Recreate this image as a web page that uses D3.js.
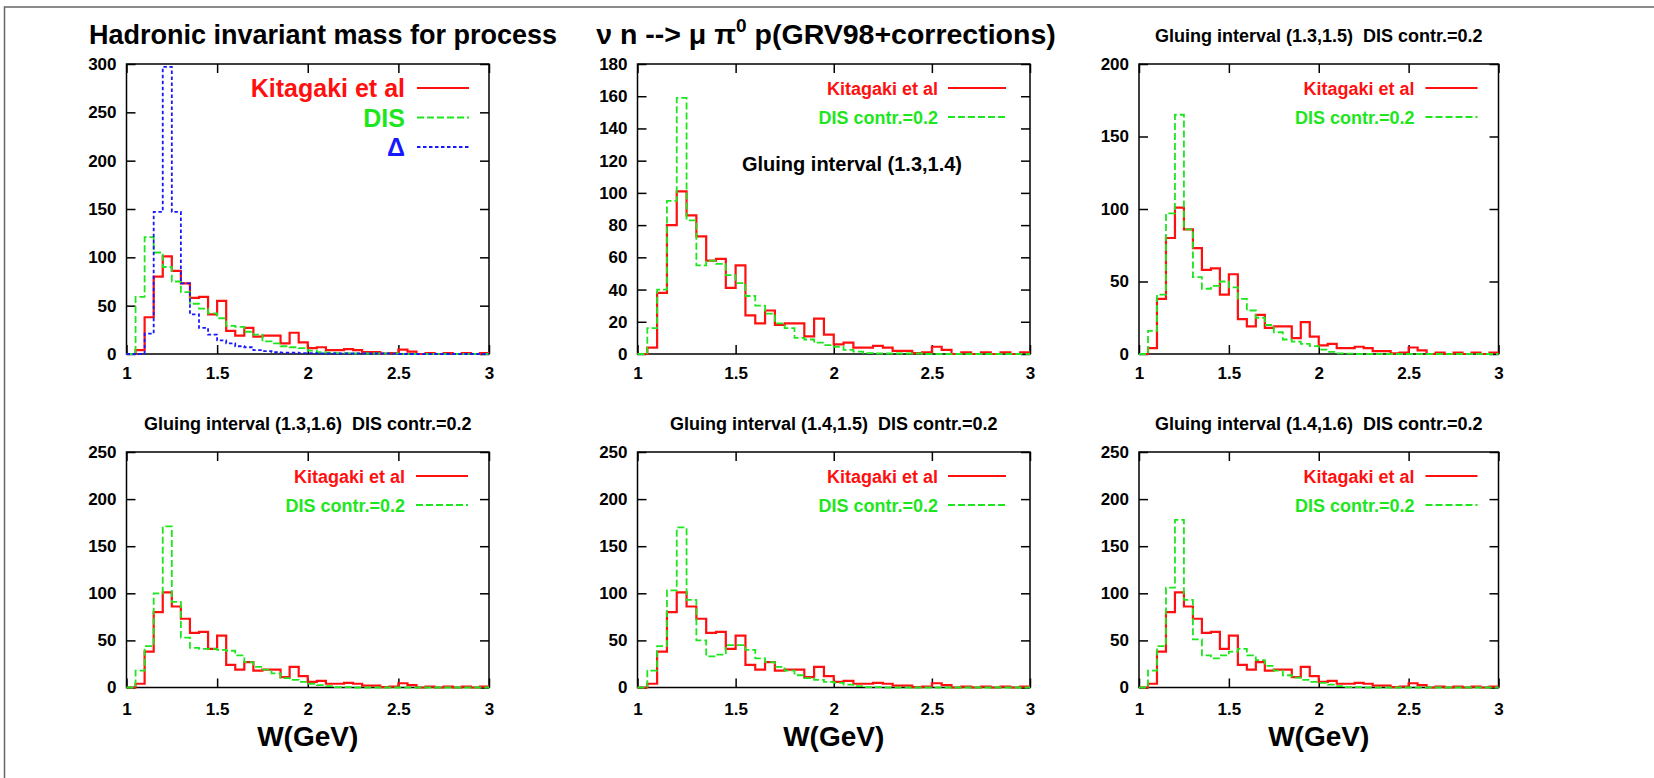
<!DOCTYPE html>
<html>
<head>
<meta charset="utf-8">
<script src="https://cdn.jsdelivr.net/npm/d3@7"></script>
<style>
  body { margin: 0; background: #fff; }
  svg text { font-family: "Liberation Sans", Arial, Helvetica, sans-serif; font-weight: bold; white-space: pre; }
</style>
</head>
<body>
<div id="chart"></div>
<script>
// W bin edges (GeV), 40 bins of 0.05
const binEdges = [1.00, 1.05, 1.10, 1.15, 1.20, 1.25, 1.30, 1.35, 1.40, 1.45,
  1.50, 1.55, 1.60, 1.65, 1.70, 1.75, 1.80, 1.85, 1.90, 1.95,
  2.00, 2.05, 2.10, 2.15, 2.20, 2.25, 2.30, 2.35, 2.40, 2.45,
  2.50, 2.55, 2.60, 2.65, 2.70, 2.75, 2.80, 2.85, 2.90, 2.95, 3.00];

// Kitagaki et al (same in every panel)
const kitagaki = [0, 4, 38, 80, 101, 86, 73, 58, 59, 41, 55, 24, 19, 27, 18, 19, 19, 11, 22, 12,
  6, 7, 4, 4, 5, 4, 2, 2, 0.5, 1, 4.5, 2.5, 0, 1, 0, 1, 0, 1, 0, 1];
// panel 1: DIS and Delta alone
const disOnly = [0, 59, 121, 105, 90, 75, 64, 52, 47, 42, 37, 29, 28, 23, 20, 13, 11, 8, 7, 6,
  3.5, 2, 1.5, 1, 1, 0.5, 0.5, 0.5, 0.5, 0.5, 0, 0, 0, 0, 0, 0, 0, 0, 0, 0];
const deltaOnly = [0, 0, 21, 147, 297, 147, 73, 41, 27, 20, 14, 11, 8, 7, 4, 3, 2, 1.5, 1.5, 1,
  1, 0.5, 0.5, 0.5, 0.5, 0.5, 0.5, 0.5, 0.5, 0.3, 0, 0, 0, 0, 0, 0, 0, 0, 0, 0];
// DIS contr.=0.2 with different gluing intervals
const glue1314 = [0, 16, 40, 95, 159, 83, 55, 58, 56, 49, 44, 36, 30, 25, 19, 16, 10, 9, 7, 5.5,
  4.5, 2.5, 1.5, 0.5, 0.3, 0.3, 0.3, 0.3, 0.3, 0, 0, 0, 0, 0, 0, 0, 0, 0, 0, 0];
const glue1315 = [0, 16, 41, 97, 165, 86, 53, 45, 47, 50, 46, 38, 30, 25, 20, 15, 10, 8.5, 7, 5.5,
  3, 1.5, 0.5, 0.3, 0, 0, 0, 0, 0, 0, 0, 0, 0, 0, 0, 0, 0, 0, 0, 0];
const glue1316 = [0, 18, 44, 100, 171, 91, 53, 42, 41, 41, 40, 39, 34, 27, 22, 19, 15, 10, 8, 6,
  4, 2.5, 1.5, 0.5, 0.3, 0, 0, 0, 0, 0, 0, 0, 0, 0, 0, 0, 0, 0, 0, 0];
const glue1415 = [0, 18, 44, 103, 170, 93, 50, 33, 35, 45, 45, 40, 31, 27, 22, 18, 13, 10, 8, 6,
  5, 3, 1.5, 0.5, 0.3, 0, 0, 0, 0, 0, 0, 0, 0, 0, 0, 0, 0, 0, 0, 0];
const glue1416 = [0, 18, 44, 106, 178, 93, 51, 34, 31, 34, 38, 41, 34, 29, 23, 18, 13, 10.5, 8, 6,
  5, 3, 1.4, 0.5, 0.3, 0, 0, 0, 0, 0, 0, 0, 0, 0, 0, 0, 0, 0, 0, 0];

// tick labels
const xTicks = [1, 1.5, 2, 2.5, 3];
const yTicks300 = [0, 50, 100, 150, 200, 250, 300];
const yTicks180 = [0, 20, 40, 60, 80, 100, 120, 140, 160, 180];
const yTicks200 = [0, 50, 100, 150, 200];
const yTicks250 = [0, 50, 100, 150, 200, 250];

const width = 1654, height = 778;
const red = "#ff1010", green = "#1ee61e", blue = "#1818ff";

const svg = d3.select("#chart")
  .append("svg")
    .attr("width", width)
    .attr("height", height);

svg.append("rect").attr("width", width).attr("height", height).attr("fill", "#fff");

// outer frame (only top and left edges visible)
svg.append("path")
  .attr("d", `M4.5,${height} V7 H${width}`)
  .attr("fill", "none")
  .attr("stroke", "#666")
  .attr("stroke-width", 1.5);

const kitEntry = {name: "Kitagaki et al", values: kitagaki, color: red, dash: null};
const disEntry = vals => ({name: "DIS contr.=0.2", values: vals, color: green, dash: "7,3"});

const panels = [
  {left: 126.5, right: 489, top: 64, bottom: 354, yMax: 300, yTicks: yTicks300, big: true,
   series: [kitEntry,
            {name: "DIS", values: disOnly, color: green, dash: "7,3"},
            {name: "\u0394", values: deltaOnly, color: blue, dash: "3.5,2.5"}]},
  {left: 637.5, right: 1030, top: 64, bottom: 354, yMax: 180, yTicks: yTicks180,
   series: [kitEntry, disEntry(glue1314)], note: "Gluing interval (1.3,1.4)"},
  {left: 1139, right: 1498.5, top: 64, bottom: 354, yMax: 200, yTicks: yTicks200,
   series: [kitEntry, disEntry(glue1315)], title: "Gluing interval (1.3,1.5)  DIS contr.=0.2"},
  {left: 126.5, right: 489, top: 452, bottom: 687.5, yMax: 250, yTicks: yTicks250,
   series: [kitEntry, disEntry(glue1316)], title: "Gluing interval (1.3,1.6)  DIS contr.=0.2", xlabel: true},
  {left: 637.5, right: 1030, top: 452, bottom: 687.5, yMax: 250, yTicks: yTicks250,
   series: [kitEntry, disEntry(glue1415)], title: "Gluing interval (1.4,1.5)  DIS contr.=0.2", xlabel: true},
  {left: 1139, right: 1498.5, top: 452, bottom: 687.5, yMax: 250, yTicks: yTicks250,
   series: [kitEntry, disEntry(glue1416)], title: "Gluing interval (1.4,1.6)  DIS contr.=0.2", xlabel: true}
];

panels.forEach(function(p, idx) {
  const w = p.right - p.left, h = p.bottom - p.top;
  const g = svg.append("g").attr("transform", `translate(${p.left}, ${p.top})`);

  const x = d3.scaleLinear().domain([1, 3]).range([0, w]);
  const y = d3.scaleLinear().domain([0, p.yMax]).range([h, 0]);

  // frame
  g.append("rect")
    .attr("width", w).attr("height", h)
    .attr("fill", "none").attr("stroke", "#000").attr("stroke-width", 1.5);

  // axes, ticks pointing inward on all four sides
  const styleAxis = a => {
    a.select(".domain").remove();
    a.selectAll(".tick line").attr("stroke", "#000").attr("stroke-width", 1.5);
    a.selectAll(".tick text").attr("fill", "#000").attr("font-size", 17)
      .attr("font-family", null);
  };
  g.append("g").attr("transform", `translate(0, ${h})`)
    .call(d3.axisBottom(x).tickValues(xTicks).tickSize(-9).tickPadding(p.xlabel ? 15 : 13).tickFormat(d => d))
    .call(styleAxis);
  g.append("g")
    .call(d3.axisTop(x).tickValues(xTicks).tickSize(-9).tickFormat(""))
    .call(styleAxis);
  g.append("g")
    .call(d3.axisLeft(y).tickValues(p.yTicks).tickSize(-9).tickPadding(10).tickFormat(d => d))
    .call(styleAxis);
  g.append("g").attr("transform", `translate(${w}, 0)`)
    .call(d3.axisRight(y).tickValues(p.yTicks).tickSize(-9).tickFormat(""))
    .call(styleAxis);

  // histograms as step lines
  const line = d3.line()
    .x(d => x(d.w))
    .y(d => y(d.n))
    .curve(d3.curveStepAfter);

  p.series.forEach(function(s) {
    const pts = binEdges.map((e, i) => ({w: e, n: s.values[Math.min(i, s.values.length - 1)]}));
    g.append("path")
      .datum(pts)
      .attr("d", line)
      .attr("fill", "none")
      .attr("stroke", s.color)
      .attr("stroke-width", s.dash ? 1.8 : 2.2)
      .attr("stroke-dasharray", s.dash);
  });

  // legend
  const fs = p.big ? 25 : 18;
  const rowH = p.big ? 29.5 : 29;
  const textOff = p.big ? 84 : (idx % 3 === 1 ? 92 : 84);
  const lineFrom = p.big ? 72 : (idx % 3 === 1 ? 82 : 73);
  const lineTo = p.big ? 20 : (idx % 3 === 1 ? 24 : 21);
  const base0 = p.big ? 33 : 31;
  p.series.forEach(function(s, i) {
    const by = base0 + i * rowH;
    g.append("text")
      .attr("x", w - textOff)
      .attr("y", by)
      .attr("text-anchor", "end")
      .attr("font-size", fs)
      .attr("fill", s.color)
      .text(s.name);
    g.append("line")
      .attr("x1", w - lineFrom).attr("x2", w - lineTo)
      .attr("y1", by - (p.big ? 9 : 7)).attr("y2", by - (p.big ? 9 : 7))
      .attr("stroke", s.color)
      .attr("stroke-width", s.dash ? 1.8 : 2.2)
      .attr("stroke-dasharray", s.dash);
  });

  if (p.note) {
    g.append("text")
      .attr("x", 214.5).attr("y", 107)
      .attr("text-anchor", "middle")
      .attr("font-size", 20)
      .text(p.note);
  }

  if (p.title) {
    g.append("text")
      .attr("x", w / 2).attr("y", -22)
      .attr("text-anchor", "middle")
      .attr("font-size", 18)
      .text(p.title);
  }

  if (p.xlabel) {
    g.append("text")
      .attr("x", w / 2).attr("y", h + 58)
      .attr("text-anchor", "middle")
      .attr("font-size", 28)
      .text("W(GeV)");
  }
});

// main title spread over the first two panels
svg.append("text")
  .attr("x", 323).attr("y", 44)
  .attr("text-anchor", "middle")
  .attr("font-size", 27)
  .text("Hadronic invariant mass for process");

const t2 = svg.append("text")
  .attr("x", 826).attr("y", 44)
  .attr("text-anchor", "middle")
  .attr("font-size", 28.5);
t2.append("tspan").text("\u03BD n --> \u03BC \u03C0");
t2.append("tspan").attr("dy", -12).attr("font-size", 19).text("0");
t2.append("tspan").attr("dy", 12).text(" p(GRV98+corrections)");
</script>
</body>
</html>
